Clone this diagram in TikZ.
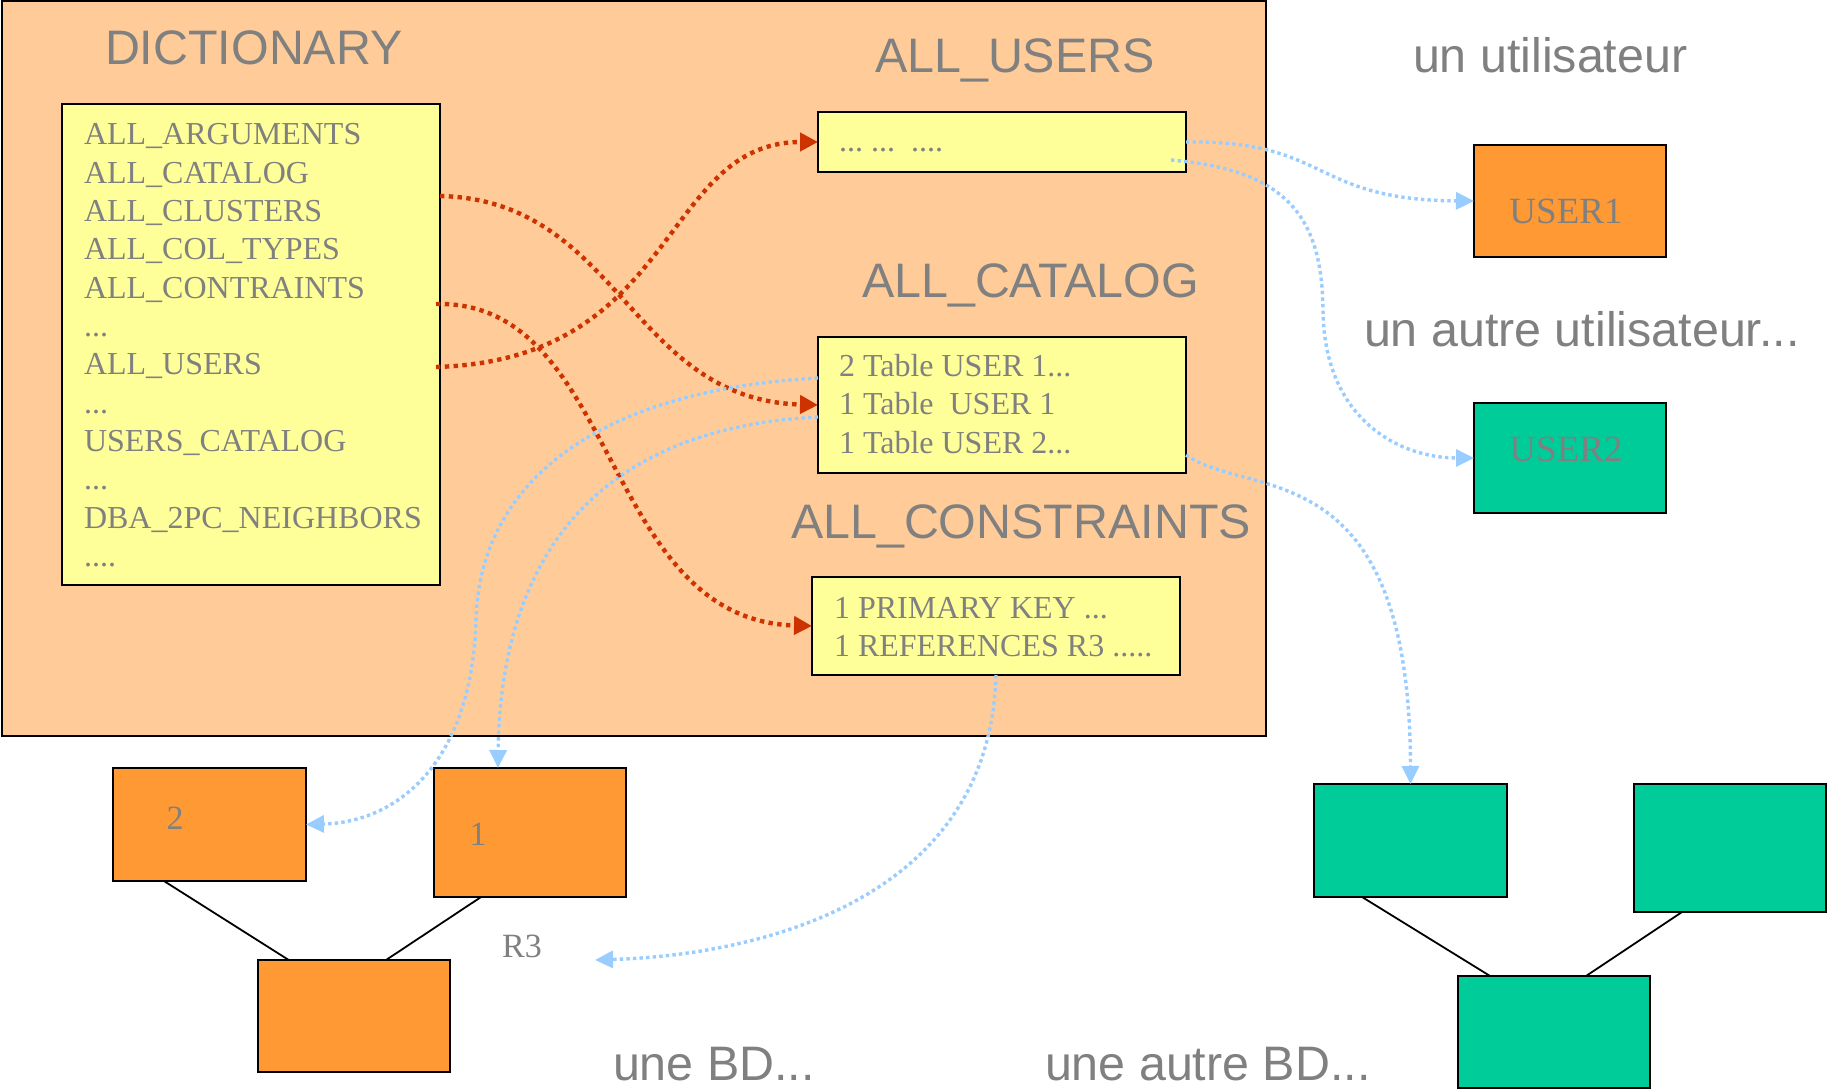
\documentclass[tikz,border=0pt]{standalone}
\usepackage{fontspec}
\setmainfont{Liberation Serif}
\newfontfamily\headfont{Liberation Sans}
\usetikzlibrary{arrows.meta,calc}

\definecolor{peach}{HTML}{FFCC99}
\definecolor{paleyellow}{HTML}{FFFF99}
\definecolor{boxorange}{HTML}{FF9933}
\definecolor{boxgreen}{HTML}{00CC99}
\definecolor{textgray}{HTML}{808080}
\definecolor{linkred}{HTML}{CC3300}
\definecolor{linkblue}{HTML}{99CCFF}

\begin{document}
\begin{tikzpicture}[x=0.5pt,y=-0.5pt,
  box/.style={draw=black,line width=0.65pt,inner sep=0pt,outer sep=0pt,anchor=north west},
  txt/.style={inner sep=0pt,outer sep=0pt,anchor=base west,text=textgray},
  rowtxt/.style={txt,font=\fontsize{16pt}{19pt}\selectfont},
  headtxt/.style={txt,font=\headfont\fontsize{24.2pt}{28pt}\selectfont},
  usertxt/.style={inner sep=0pt,anchor=base,text=textgray,font=\fontsize{18.5pt}{22pt}\selectfont},
  numtxt/.style={inner sep=0pt,anchor=base,text=textgray,font=\fontsize{17pt}{20pt}\selectfont},
  redlink/.style={draw=linkred,line width=2.2pt,dash pattern=on 2.2pt off 2.2pt,
    -{Triangle[length=9pt,width=9pt,fill=linkred]}},
  bluelink/.style={draw=linkblue,line width=1.7pt,dash pattern=on 1.7pt off 1.6pt,
    -{Triangle[length=9pt,width=8.5pt,fill=linkblue]}},
  tie/.style={draw=black,line width=0.9pt}]

\useasboundingbox (0,0) rectangle (1827,1091);
\fill[white] (0,0) rectangle (1827,1091);

% dictionary area
\node[box,fill=peach,minimum width=632pt,minimum height=367.5pt] (dictarea) at (2,1) {};
\node[headtxt] (dicttitle) at (105,65) {DICTIONARY};

% list of dictionary views
\node[box,fill=paleyellow,minimum width=189pt,minimum height=240.5pt] (list) at (62,104) {};
\node[rowtxt] (row0)  at (84,145.0) {ALL\_ARGUMENTS};
\node[rowtxt] (row1)  at (84,183.3) {ALL\_CATALOG};
\node[rowtxt] (row2)  at (84,221.6) {ALL\_CLUSTERS};
\node[rowtxt] (row3)  at (84,259.9) {ALL\_COL\_TYPES};
\node[rowtxt] (row4)  at (84,298.2) {ALL\_CONTRAINTS};
\node[rowtxt] (row5)  at (84,336.5) {...};
\node[rowtxt] (row6)  at (84,374.8) {ALL\_USERS};
\node[rowtxt] (row7)  at (84,413.1) {...};
\node[rowtxt] (row8)  at (84,451.4) {USERS\_CATALOG};
\node[rowtxt] (row9)  at (84,489.7) {...};
\node[rowtxt] (row10) at (84,528.0) {DBA\_2PC\_NEIGHBORS};
\node[rowtxt] (row11) at (84,566.3) {....};

% ALL_USERS
\node[headtxt] (userstitle) at (875,73) {ALL\_USERS};
\node[box,fill=paleyellow,minimum width=184pt,minimum height=30pt] (users) at (818,112) {};
\node[rowtxt] (usersrow) at (839,152) {...\ ...\ \ ....};

% ALL_CATALOG
\node[headtxt] (catalogtitle) at (862,298) {ALL\_CATALOG};
\node[box,fill=paleyellow,minimum width=184pt,minimum height=68pt] (catalog) at (818,337) {};
\node[rowtxt] (cat1) at (839,377) {2 Table USER 1...};
\node[rowtxt] (cat2) at (839,415) {1 Table\ \ USER 1};
\node[rowtxt] (cat3) at (839,453) {1 Table USER 2...};

% ALL_CONSTRAINTS
\node[headtxt] (constitle) at (791,538) {ALL\_CONSTRAINTS};
\node[box,fill=paleyellow,minimum width=184pt,minimum height=49pt] (cons) at (812,577) {};
\node[rowtxt] (cons1) at (834,618) {1 PRIMARY KEY ...};
\node[rowtxt] (cons2) at (834,656) {1 REFERENCES R3 .....};

% users
\node[headtxt] (oneuser) at (1413,73) {un utilisateur};
\node[box,fill=boxorange,minimum width=96pt,minimum height=56pt] (user1) at (1474,145) {};
\node[usertxt] (user1txt) at (1566,224) {USER1};
\node[headtxt] (otheruser) at (1364,347) {un autre utilisateur...};
\node[box,fill=boxgreen,minimum width=96pt,minimum height=55pt] (user2) at (1474,403) {};
\node[usertxt] (user2txt) at (1566,461) {USER2};

% first database
\node[box,fill=boxorange,minimum width=96.5pt,minimum height=56.5pt] (tab2) at (113,768) {};
\node[numtxt] (tab2txt) at (175,829) {2};
\node[box,fill=boxorange,minimum width=96pt,minimum height=64.5pt] (tab1) at (434,768) {};
\node[numtxt] (tab1txt) at (478,845) {1};
\node[box,fill=boxorange,minimum width=96pt,minimum height=56pt] (tab3) at (258,960) {};
\node[numtxt] (r3) at (522,957) {R3};
\coordinate (r3tip) at (595,960);
\node[headtxt] (onedb) at (613,1080) {une BD...};

\draw[tie] ($(tab2.south west)!0.264!(tab2.south east)$) -- ($(tab3.north west)!0.16!(tab3.north east)$);
\draw[tie] ($(tab1.south west)!0.245!(tab1.south east)$) -- ($(tab3.north west)!0.667!(tab3.north east)$);

% second database
\node[headtxt] (otherdb) at (1045,1080) {une autre BD...};
\node[box,fill=boxgreen,minimum width=96.5pt,minimum height=56.5pt] (gA) at (1314,784) {};
\node[box,fill=boxgreen,minimum width=96pt,minimum height=64pt] (gB) at (1634,784) {};
\node[box,fill=boxgreen,minimum width=96pt,minimum height=56pt] (gC) at (1458,976) {};

\draw[tie] ($(gA.south west)!0.249!(gA.south east)$) -- ($(gC.north west)!0.167!(gC.north east)$);
\draw[tie] ($(gB.south west)!0.25!(gB.south east)$) -- ($(gC.north west)!0.667!(gC.north east)$);

% dictionary links
\draw[redlink] ($(list.north east)+(0,92)$) .. controls (620,200) and (630,400) .. (catalog.west);
\draw[redlink] ($(list.north east)+(-4,200)$) .. controls (620,300) and (600,620) .. (cons.west);
\draw[redlink] ($(list.north east)+(-4,263)$) .. controls (680,360) and (660,142) .. (users.west);

% links to users and tables
\draw[bluelink] (users.east) .. controls (1330,140) and (1310,200) .. (user1.west);
\draw[bluelink] ($(users.south east)+(-15,-12)$) .. controls (1290,170) and (1322,220) .. (1323,310)
  .. controls (1324,420) and (1400,458) .. (user2.west);
\draw[bluelink] ($(catalog.south east)+(0,-18)$) .. controls (1250,500) and (1410,450) .. (gA.north);
\draw[bluelink] ($(catalog.west)+(0,-27)$) .. controls (600,390) and (480,480) .. (476,620)
  .. controls (472,760) and (400,822) .. (tab2.east);
\draw[bluelink] ($(catalog.west)+(0,12)$) .. controls (560,430) and (500,600) .. ($(tab1.north west)!0.333!(tab1.north east)$);
\draw[bluelink] (cons.south) .. controls (990,900) and (760,955) .. (r3tip);

\end{tikzpicture}
\end{document}
